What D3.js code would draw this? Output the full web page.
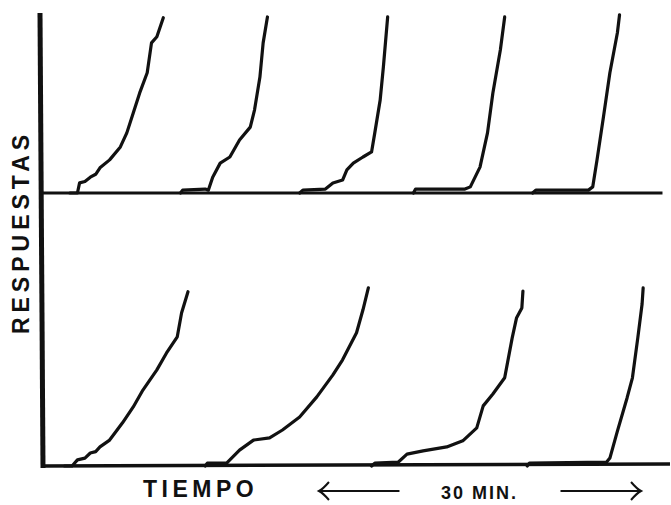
<!DOCTYPE html>
<html>
<head>
<meta charset="utf-8">
<script src="https://cdn.jsdelivr.net/npm/d3@7"></script>
<style>
  body { margin: 0; background: #fff; }
  svg { display: block; }
</style>
</head>
<body>
<svg id="chart"></svg>
<script>
// cumulative records: time in minutes, cumulative responses
const upperRecords = [
  [[2.6,0],[3.3,0],[3.5,28],[4.0,32],[4.5,44],[5.0,52],[5.4,70],[6.3,92],[7.3,128],[7.9,167],[8.5,222],[9.1,278],[9.8,334],[10.2,417],[10.7,434],[11.3,487]],
  [[12.9,0],[13.1,8],[15.2,11],[15.5,8],[15.9,44],[16.6,83],[17.5,100],[18.4,147],[19.4,183],[19.8,231],[20.3,322],[20.6,417],[21.0,489]],
  [[24.0,0],[24.3,8],[26.4,11],[27.1,28],[28.0,36],[28.4,64],[29.0,83],[29.9,100],[30.7,114],[31.0,167],[31.5,258],[31.8,350],[32.2,489]],
  [[34.6,0],[34.8,11],[39.4,11],[39.9,17],[40.8,72],[41.5,167],[42.0,278],[42.7,398],[43.1,489]],
  [[45.7,0],[46.0,8],[50.9,8],[51.3,17],[51.7,92],[52.3,211],[52.9,334],[53.6,445],[53.8,495]]
]
const lowerRecords = [
  [[2.1,0],[2.8,0],[3.3,17],[4.0,22],[4.5,36],[5.0,40],[5.4,53],[6.3,72],[7.5,120],[8.5,164],[9.4,211],[10.7,267],[11.6,314],[12.6,359],[13.0,425],[13.6,484]],
  [[15.2,0],[15.4,8],[17.2,8],[18.4,44],[19.7,72],[21.2,78],[22.4,100],[24.0,136],[25.6,192],[27.1,253],[28.0,295],[29.3,370],[29.9,434],[30.4,495]],
  [[30.7,0],[31.0,8],[33.2,11],[34.0,33],[35.5,42],[37.7,53],[39.2,70],[40.5,106],[41.1,167],[42.0,200],[43.1,245],[43.8,356],[44.2,411],[44.7,439],[44.8,486]],
  [[45.2,0],[45.4,8],[52.6,11],[52.9,22],[53.6,97],[54.5,189],[55.0,245],[55.5,356],[55.9,450],[56.0,495]]
]
const timeSpan = [0, 58.5]
const responseSpan = [0, 500]
const yLabel = "RESPUESTAS"
const xLabel = "TIEMPO"
const scaleLabel = "30 MIN."
const scaleBar = [25.8, 55.8]   // start/end of the 30 min bracket

const width = 671
const height = 505

const svg = d3.select("#chart")
    .attr("width", width)
    .attr("height", height)

const x = d3.scaleLinear().domain(timeSpan).range([42, 670])
const yUpper = d3.scaleLinear().domain(responseSpan).range([193, 13])
const yLower = d3.scaleLinear().domain(responseSpan).range([466, 286])

// axes
svg.append("line")
    .attr("x1", 40).attr("x2", 43)
    .attr("y1", yUpper(responseSpan[1])).attr("y2", yLower(0) + 2)
    .attr("stroke", "#111").attr("stroke-width", 5)

svg.append("line")
    .attr("x1", 40).attr("x2", x(57.8))
    .attr("y1", yUpper(0)).attr("y2", yUpper(0))
    .attr("stroke", "#111").attr("stroke-width", 3)

svg.append("line")
    .attr("x1", 42).attr("x2", x(58.5))
    .attr("y1", yLower(0)).attr("y2", yLower(0) - 2)
    .attr("stroke", "#111").attr("stroke-width", 3.5)

// records
const draw = (records, y) => {
  const line = d3.line()
      .x(d => x(d[0]))
      .y(d => y(d[1]))
  svg.append("g")
    .selectAll("path")
    .data(records)
    .join("path")
      .attr("d", line)
      .attr("fill", "none")
      .attr("stroke", "#111")
      .attr("stroke-width", 3.2)
      .attr("stroke-linejoin", "round")
      .attr("stroke-linecap", "round")
}
draw(upperRecords, yUpper)
draw(lowerRecords, yLower)

// labels
svg.append("text")
    .attr("transform", `translate(29,232) rotate(-90)`)
    .attr("text-anchor", "middle")
    .attr("font-family", "Liberation Sans, Arial, sans-serif")
    .attr("font-weight", "bold")
    .attr("font-size", 23)
    .attr("letter-spacing", 5)
    .attr("fill", "#111")
    .text(yLabel)

svg.append("text")
    .attr("x", 143).attr("y", 497)
    .attr("font-family", "Liberation Sans, Arial, sans-serif")
    .attr("font-weight", "bold")
    .attr("font-size", 23)
    .attr("letter-spacing", 4.5)
    .attr("fill", "#111")
    .text(xLabel)

svg.append("text")
    .attr("x", 441).attr("y", 499)
    .attr("font-family", "Liberation Sans, Arial, sans-serif")
    .attr("font-weight", "bold")
    .attr("font-size", 18)
    .attr("letter-spacing", 2)
    .attr("fill", "#111")
    .text(scaleLabel)

// 30 min bracket arrows
const ay = 491
const arrows = svg.append("g")
    .attr("fill", "none")
    .attr("stroke", "#111")
    .attr("stroke-width", 2)
arrows.append("line").attr("x1", x(scaleBar[0])).attr("x2", x(33.3)).attr("y1", ay).attr("y2", ay)
arrows.append("path").attr("d", `M${x(scaleBar[0]) + 10},${ay - 9} Q${x(scaleBar[0]) + 4},${ay - 2} ${x(scaleBar[0])},${ay} Q${x(scaleBar[0]) + 4},${ay + 2} ${x(scaleBar[0]) + 10},${ay + 9}`)
arrows.append("line").attr("x1", x(48.3)).attr("x2", x(scaleBar[1])).attr("y1", ay).attr("y2", ay)
arrows.append("path").attr("d", `M${x(scaleBar[1]) - 10},${ay - 9} Q${x(scaleBar[1]) - 4},${ay - 2} ${x(scaleBar[1])},${ay} Q${x(scaleBar[1]) - 4},${ay + 2} ${x(scaleBar[1]) - 10},${ay + 9}`)
</script>
</body>
</html>
